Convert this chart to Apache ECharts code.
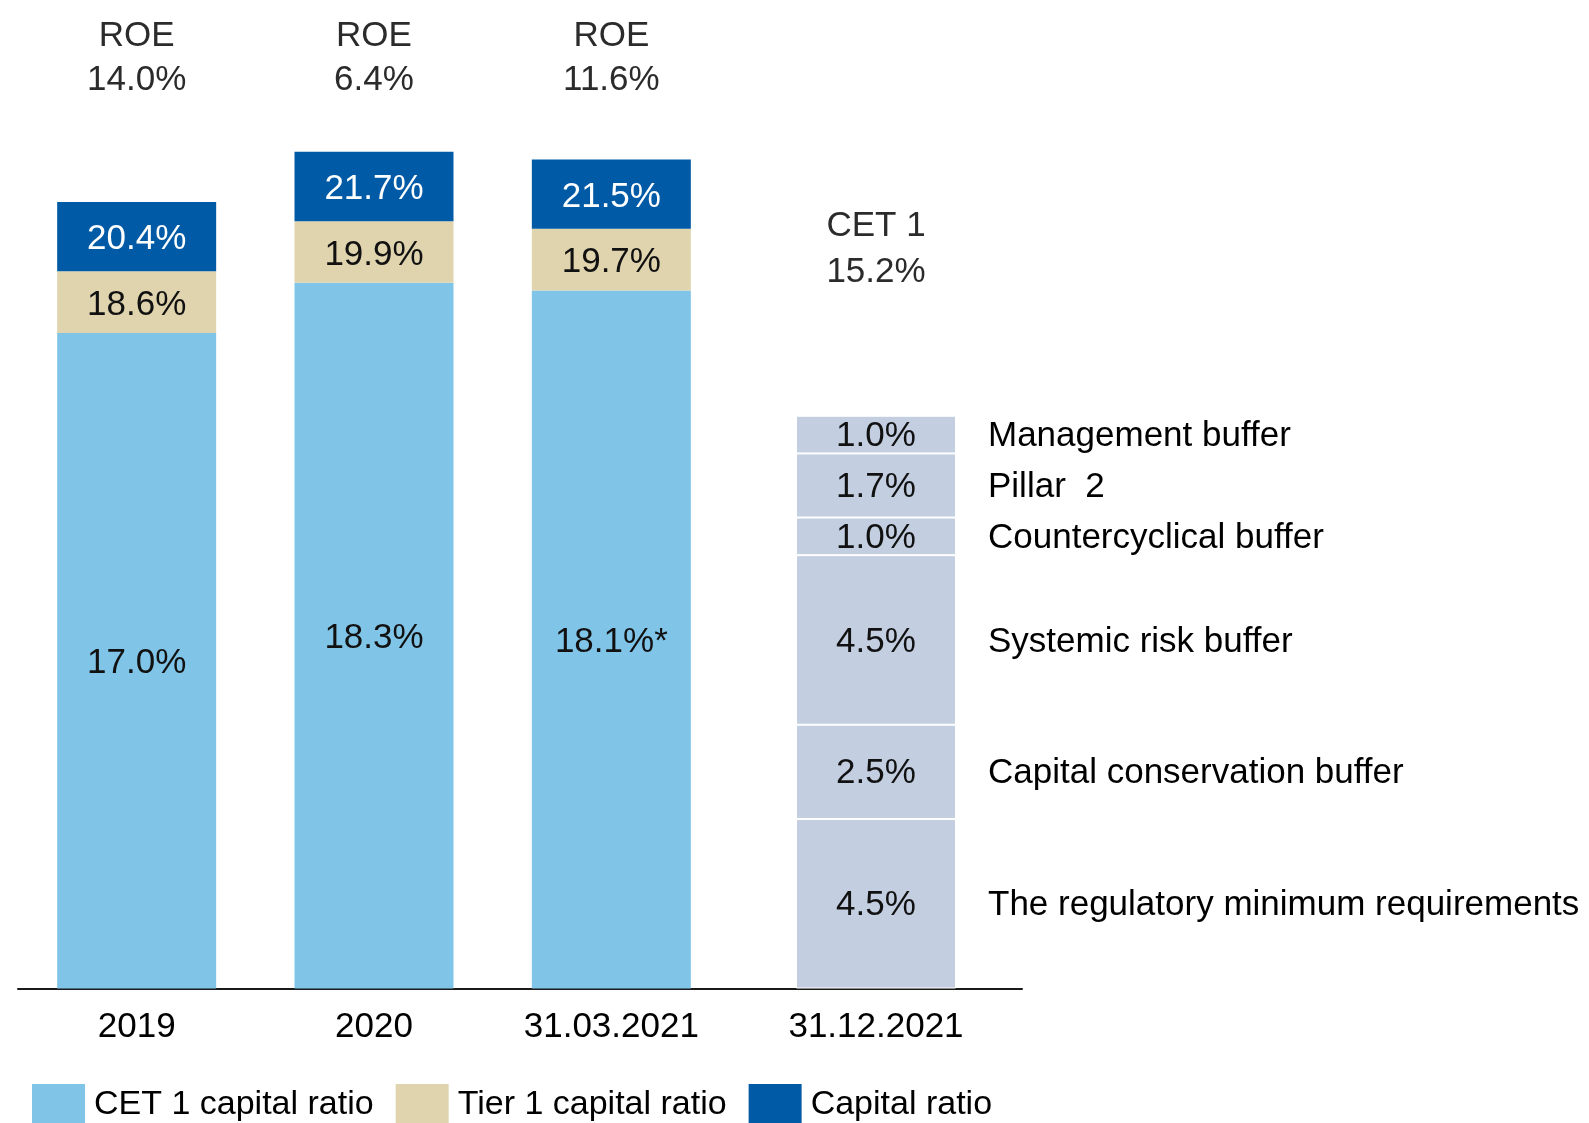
<!DOCTYPE html>
<html>
<head>
<meta charset="utf-8">
<script src="https://cdn.jsdelivr.net/npm/echarts@6/dist/echarts.min.js"></script>
<style>
  html, body { margin: 0; padding: 0; background: #fff; }
  #chart { width: 1589px; height: 1123px; }
</style>
</head>
<body>
<div id="chart"></div>
<script>
// data
var categories = ['2019', '2020', '31.03.2021'];
var cet1Ratio = [17.0, 18.3, 18.1];
var cet1Note = ['', '', '*'];
var tier1Ratio = [18.6, 19.9, 19.7];
var capitalRatio = [20.4, 21.7, 21.5];
var roe = [14.0, 6.4, 11.6];

var reqCategory = ['31.12.2021'];
var bufferNames = ['The regulatory minimum requirements', 'Capital conservation buffer', 'Systemic risk buffer',
  'Countercyclical buffer', 'Pillar  2', 'Management buffer'];
var bufferValues = [4.5, 2.5, 4.5, 1.0, 1.7, 1.0];

var FONT = 'Liberation Sans';
var chart = echarts.init(document.getElementById('chart'));

function pct(v) { return v.toFixed(1) + '%'; }

// stacked increments
var tier1Add = tier1Ratio.map(function (v, i) { return +(v - cet1Ratio[i]).toFixed(1); });
var capitalAdd = capitalRatio.map(function (v, i) { return +(v - tier1Ratio[i]).toFixed(1); });
var cetTotal = bufferValues.reduce(function (a, b) { return a + b; }, 0);

var series = [
  {
    name: 'CET 1 capital ratio', type: 'bar', stack: 'r', barWidth: 159,
    xAxisIndex: 0, yAxisIndex: 0, data: cet1Ratio,
    itemStyle: { color: '#80C5E8' },
    label: {
      show: true, position: 'inside', offset: [0, 3], color: '#111', fontSize: 35, fontFamily: FONT,
      formatter: function (p) { return pct(cet1Ratio[p.dataIndex]) + cet1Note[p.dataIndex]; }
    }
  },
  {
    name: 'Tier 1 capital ratio', type: 'bar', stack: 'r', barWidth: 159,
    xAxisIndex: 0, yAxisIndex: 0, data: tier1Add,
    itemStyle: { color: '#E0D4AE' },
    label: {
      show: true, position: 'inside', offset: [0, 3], color: '#111', fontSize: 35, fontFamily: FONT,
      formatter: function (p) { return pct(tier1Ratio[p.dataIndex]); }
    }
  },
  {
    name: 'Capital ratio', type: 'bar', stack: 'r', barWidth: 159,
    xAxisIndex: 0, yAxisIndex: 0, data: capitalAdd,
    itemStyle: { color: '#005AA5' },
    label: {
      show: true, position: 'inside', offset: [0, 3], color: '#fff', fontSize: 35, fontFamily: FONT,
      formatter: function (p) { return pct(capitalRatio[p.dataIndex]); }
    }
  }
];

bufferNames.forEach(function (name, i) {
  series.push({
    name: name, type: 'bar', stack: 'b', barWidth: 160,
    xAxisIndex: 2, yAxisIndex: 1, data: [bufferValues[i]],
    itemStyle: { color: '#C3CEE1', borderColor: '#fff', borderWidth: 1 },
    label: {
      show: true, position: 'insideLeft', distance: 0, offset: [0, 2],
      formatter: '{v|' + pct(bufferValues[i]) + '}{n|' + name + '}',
      rich: {
        v: { width: 160, align: 'center', color: '#111', fontSize: 35, fontFamily: FONT },
        n: { padding: [0, 0, 0, 32], color: '#000', fontSize: 35, fontFamily: FONT }
      }
    }
  });
});

var option = {
  animation: false,
  backgroundColor: '#fff',
  grid: [
    { left: 18, width: 712, top: 24.5, bottom: 1123 - 988.5 },
    { left: 730, width: 292, top: 46.5, bottom: 1123 - 988.5 }
  ],
  xAxis: [
    {
      type: 'category', gridIndex: 0, data: categories,
      axisLine: { lineStyle: { color: '#1a1a1a', width: 2 } },
      axisTick: { show: false },
      axisLabel: { color: '#000', fontSize: 35, fontFamily: FONT, margin: 21 }
    },
    {
      type: 'category', gridIndex: 0, data: categories, position: 'top', offset: -78,
      axisLine: { show: false }, axisTick: { show: false },
      axisLabel: {
        color: '#2b2b2b', fontSize: 35, fontFamily: FONT, lineHeight: 44, margin: 0,
        formatter: function (v, i) { return 'ROE\n' + pct(roe[i]); }
      }
    },
    {
      type: 'category', gridIndex: 1, data: reqCategory,
      axisLine: { lineStyle: { color: '#1a1a1a', width: 2 } },
      axisTick: { show: false },
      axisLabel: { color: '#000', fontSize: 35, fontFamily: FONT, margin: 21 }
    },
    {
      type: 'category', gridIndex: 1, data: reqCategory, position: 'top', offset: -249,
      axisLine: { show: false }, axisTick: { show: false },
      axisLabel: {
        color: '#2b2b2b', fontSize: 35, fontFamily: FONT, lineHeight: 46, margin: 0,
        formatter: function () { return 'CET 1\n' + pct(cetTotal); }
      }
    }
  ],
  yAxis: [
    { type: 'value', gridIndex: 0, min: 0, max: 25, show: false, splitLine: { show: false } },
    { type: 'value', gridIndex: 1, min: 0, max: 25, show: false, splitLine: { show: false } }
  ],
  legend: {
    data: ['CET 1 capital ratio', 'Tier 1 capital ratio', 'Capital ratio'],
    left: 32, top: 1084, padding: 0, itemWidth: 53, itemHeight: 42, itemGap: 22,
    icon: 'rect',
    textStyle: { color: '#000', fontSize: 34, fontFamily: FONT, padding: [5, 0, 0, 4] }
  },
  series: series
};

chart.setOption(option);
</script>
</body>
</html>
